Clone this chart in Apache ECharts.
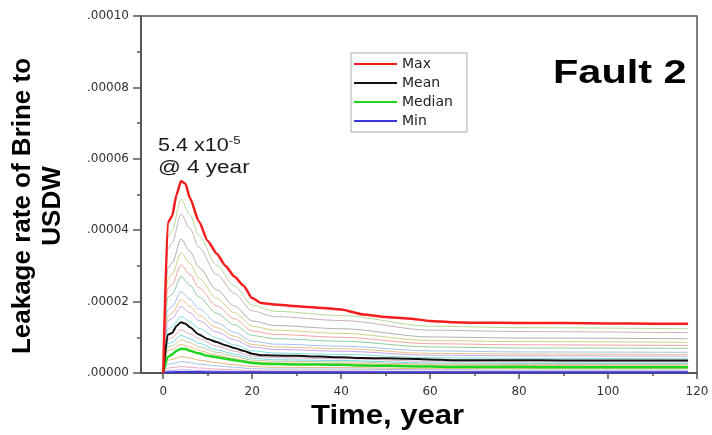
<!DOCTYPE html>
<html>
<head>
<meta charset="utf-8">
<script src="https://cdn.jsdelivr.net/npm/echarts@6/dist/echarts.min.js"></script>
<style>html,body{margin:0;padding:0;background:#fff;}#c{width:712px;height:435px;}</style>
</head>
<body>
<div id="c"></div>
<script>
// values in units of 1e-5
const UNIT = 1e-5;
const timeMain = [0,1,2,3,4,5,6,8,10,12,14,16,18,20,22,25,30,35,40,45,50,55,60,65,70,80,90,100,110,118];
const maxRate    = [0,4.2,4.4,5.0,5.38,5.3,4.9,4.25,3.7,3.35,3.0,2.7,2.45,2.1,1.96,1.92,1.87,1.83,1.78,1.64,1.57,1.53,1.46,1.42,1.41,1.40,1.40,1.39,1.38,1.38];
const meanRate   = [0,1.07,1.12,1.32,1.42,1.38,1.28,1.08,0.95,0.87,0.78,0.70,0.62,0.54,0.50,0.49,0.48,0.46,0.44,0.42,0.41,0.40,0.38,0.36,0.36,0.36,0.35,0.35,0.35,0.35];
const medianRate = [0,0.45,0.52,0.62,0.68,0.67,0.62,0.55,0.48,0.44,0.40,0.36,0.32,0.28,0.26,0.25,0.24,0.235,0.23,0.21,0.20,0.19,0.18,0.17,0.17,0.165,0.16,0.16,0.16,0.16];
const minRate    = [0,0.02,0.02,0.03,0.03,0.03,0.03,0.03,0.02,0.02,0.02,0.02,0.02,0.02,0.02,0.02,0.02,0.02,0.02,0.02,0.02,0.02,0.02,0.02,0.02,0.02,0.02,0.02,0.02,0.02];

const timeRuns = [0,1,2,4,6,8,12,16,20,25,40,60,80,118];
const run01 = [0,3.80,3.99,4.87,4.43,3.85,3.02,2.44,1.90,1.73,1.61,1.31,1.27,1.24];
const run02 = [0,3.47,3.65,4.45,4.05,3.52,2.76,2.23,1.74,1.58,1.47,1.20,1.16,1.13];
const run03 = [0,2.93,3.08,3.75,3.41,2.96,2.33,1.88,1.46,1.33,1.24,1.01,0.98,0.96];
const run04 = [0,2.63,2.76,3.37,3.07,2.66,2.09,1.69,1.31,1.20,1.11,0.91,0.88,0.86];
const run05 = [0,2.36,2.48,3.03,2.76,2.39,1.88,1.52,1.18,1.08,1.00,0.82,0.79,0.77];
const run06 = [0,2.11,2.21,2.70,2.46,2.13,1.67,1.35,1.05,0.96,0.89,0.73,0.70,0.69];
const run07 = [0,1.78,1.87,2.28,2.07,1.80,1.41,1.14,0.89,0.81,0.75,0.62,0.59,0.58];
const run08 = [0,1.60,1.68,2.05,1.87,1.62,1.27,1.03,0.80,0.73,0.68,0.55,0.53,0.52];
const run09 = [0,1.45,1.53,1.86,1.69,1.47,1.15,0.93,0.73,0.66,0.61,0.50,0.48,0.47];
const run10 = [0,1.23,1.30,1.58,1.44,1.25,0.98,0.79,0.62,0.56,0.52,0.43,0.41,0.40];
const run11 = [0,0.94,0.99,1.21,1.10,0.96,0.75,0.61,0.47,0.43,0.40,0.33,0.31,0.31];
const run12 = [0,0.82,0.86,1.05,0.96,0.83,0.65,0.53,0.41,0.37,0.35,0.28,0.27,0.27];
const run13 = [0,0.73,0.76,0.93,0.85,0.73,0.58,0.47,0.36,0.33,0.31,0.25,0.24,0.24];
const run14 = [0,0.62,0.66,0.80,0.73,0.63,0.50,0.40,0.31,0.28,0.26,0.22,0.21,0.20];
const run15 = [0,0.36,0.38,0.46,0.42,0.36,0.29,0.23,0.18,0.16,0.15,0.12,0.12,0.12];
const run16 = [0,0.25,0.26,0.32,0.29,0.25,0.20,0.16,0.12,0.11,0.11,0.09,0.08,0.08];
const run17 = [0,0.14,0.15,0.18,0.16,0.14,0.11,0.09,0.07,0.06,0.06,0.05,0.05,0.05];
const run18 = [0,0.07,0.07,0.09,0.08,0.07,0.06,0.05,0.04,0.03,0.03,0.02,0.02,0.02];
const runs = [run01,run02,run03,run04,run05,run06,run07,run08,run09,run10,run11,run12,run13,run14,run15,run16,run17,run18];
const runColors = ['#b3da96','#c9b0b4','#afafaf','#d4ce86','#f3a2a2','#8ccd9f','#a3c1ea','#e8c084','#c6a4e8','#7fdfe0','#d9adc0','#70d8e1','#c6c698','#e8bb82','#e6b482','#a3c1ea','#eeaac4','#c6a4e8'];

const xLabels = [0,20,40,60,80,100,120];
const xMinorTicks = [10,30,50,70,90,110];

function pairs(ts, vs){ return ts.map((t,i)=>[t, vs[i]*UNIT]); }

const series = [];
runs.forEach((r,i)=>{
  series.push({type:'line', name:'run'+(i+1), data:pairs(timeRuns,r), showSymbol:false, symbol:'none', smooth:0.3, smoothMonotone:'x',
    lineStyle:{width:1, color:runColors[i]}, z:2, silent:true});
});
series.push({type:'line', name:'Min', data:pairs(timeMain,minRate), symbol:'none', lineStyle:{width:2, color:'#3a36d8'}, itemStyle:{color:'#3a36d8'}, z:3});
series.push({type:'line', name:'Median', data:pairs(timeMain,medianRate), symbol:'none', smooth:0.2, smoothMonotone:'x', lineStyle:{width:2.5, color:'#1fd61f'}, itemStyle:{color:'#1fd61f'}, z:4});
series.push({type:'line', name:'Mean', data:pairs(timeMain,meanRate), symbol:'none', smooth:0.2, smoothMonotone:'x', lineStyle:{width:2, color:'#111111'}, itemStyle:{color:'#111111'}, z:5});
series.push({type:'line', name:'Max', data:pairs(timeMain,maxRate), symbol:'none', smooth:0.2, smoothMonotone:'x', lineStyle:{width:2.5, color:'#f51c1c'}, itemStyle:{color:'#f51c1c'}, z:6});

const tickFont = '"DejaVu Sans"';
const chart = echarts.init(document.getElementById('c'));
chart.setOption({
  animation:false,
  backgroundColor:'#fff',
  grid:{left:141, right:15, top:16, bottom:62, show:true, borderColor:'#555', borderWidth:1.5},
  legend:{
    data:['Max','Mean','Median','Min'], orient:'vertical', left:351, top:53,
    icon:'rect', itemWidth:43, itemHeight:2, itemGap:5,
    padding:[4,14,4,3], borderColor:'#aaa', borderWidth:1,
    textStyle:{fontFamily:tickFont, fontSize:14, color:'#222'}
  },
  xAxis:[{
    type:'value', min:-5, max:120,
    axisLine:{show:true, onZero:false, lineStyle:{color:'#555', width:2}},
    axisTick:{show:true, customValues:xLabels, length:6, inside:false, lineStyle:{color:'#555', width:1.5}},
    axisLabel:{customValues:xLabels, fontFamily:tickFont, fontSize:12, color:'#333', margin:13},
    splitLine:{show:false}
  },{
    type:'value', min:-5, max:120, position:'bottom', gridIndex:0,
    axisLine:{show:false, onZero:false},
    axisTick:{show:true, customValues:xMinorTicks, length:3, lineStyle:{color:'#555', width:1.5}},
    axisLabel:{show:false}, splitLine:{show:false}
  }],
  yAxis:{
    type:'value', min:0, max:10*UNIT, interval:2*UNIT,
    axisLine:{show:true, onZero:false, lineStyle:{color:'#555', width:2}},
    axisTick:{show:true, length:8, lineStyle:{color:'#555', width:1.5}},
    minorTick:{show:true, splitNumber:2, length:4, lineStyle:{color:'#555', width:1.5}},
    axisLabel:{fontFamily:tickFont, fontSize:12, color:'#333', margin:12,
      formatter:v=>v.toFixed(5).replace(/^0/,'')},
    splitLine:{show:false}
  },
  series:series,
  graphic:[
    {type:'text', x:37.5, y:206, rotation:Math.PI/2, z:100,
      style:{text:'Leakage rate of Brine to\nUSDW', font:'bold 26px "Liberation Sans"', fill:'#000', textAlign:'center', textVerticalAlign:'middle', lineHeight:30}},
    {type:'text', x:311, y:416, scaleX:1.11, z:100,
      style:{text:'Time, year', font:'bold 28px "Liberation Sans"', fill:'#000', textAlign:'left', textVerticalAlign:'middle'}},
    {type:'text', x:553, y:74, scaleX:1.22, z:100,
      style:{text:'Fault 2', font:'bold 34px "Liberation Sans"', fill:'#000', textAlign:'left', textVerticalAlign:'middle'}},
    {type:'text', x:158, y:145, scaleX:1.2, z:100,
      style:{text:'{a|5.4 x10}{s|-5}', fill:'#1a1a1a', textAlign:'left', textVerticalAlign:'middle',
        rich:{a:{fontFamily:'Liberation Sans', fontSize:18, color:'#1a1a1a', lineHeight:20, verticalAlign:'bottom'},
              s:{fontFamily:'Liberation Sans', fontSize:11, color:'#1a1a1a', lineHeight:20, verticalAlign:'top'}}}},
    {type:'text', x:158, y:168, scaleX:1.25, z:100,
      style:{text:'@ 4 year', font:'18px "Liberation Sans"', fill:'#1a1a1a', textAlign:'left', textVerticalAlign:'middle'}}
  ]
});
</script>
</body>
</html>
